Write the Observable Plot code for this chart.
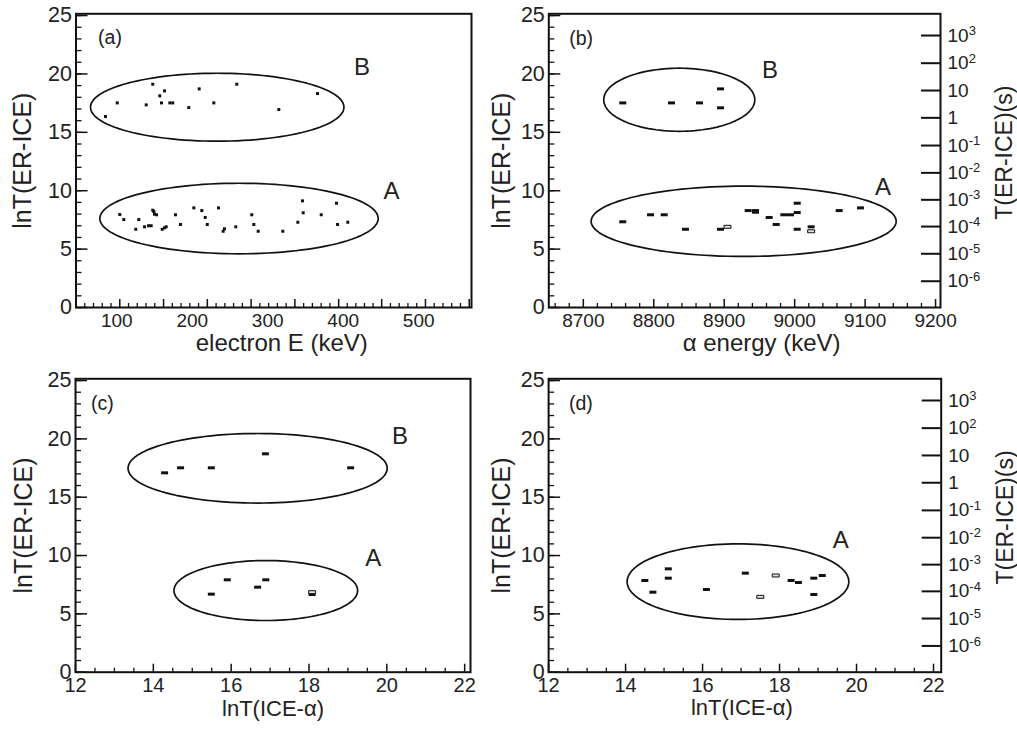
<!DOCTYPE html>
<html><head><meta charset="utf-8">
<script src="https://cdn.jsdelivr.net/npm/d3@7"></script>
<script src="https://cdn.jsdelivr.net/npm/@observablehq/plot@0.6"></script>
<style>
html,body{margin:0;padding:0;background:#fff;}
#wrap{position:relative;width:1017px;height:730px;overflow:hidden;background:#fff;}
</style></head><body><div id="wrap"></div>
<script>
// ---------- data ----------
// panel (a): electron energy (keV) vs lnT(ER-ICE)
const aGroupB = [[85.1,16.35],[100.6,17.52],[139.0,17.35],[147.7,19.12],[157.0,18.12],[159.3,17.52],[163.3,18.55],[170.3,17.52],[174.2,17.52],[195.4,17.12],[209.2,18.72],[228.6,17.52],[259.0,19.12],[314.7,16.95],[366.0,18.32]];
const aGroupA = [[104.0,7.96],[109.3,7.53],[125.2,6.70],[129.2,7.53],[136.8,6.91],[142.1,7.0],[145.6,7.0],[147.7,8.33],[150.0,7.99],[152.7,7.94],[149.1,8.22],[160.2,6.70],[163.3,6.82],[165.5,6.91],[177.8,7.94],[184.5,7.11],[202.1,8.53],[212.7,8.30],[217.2,7.71],[219.9,7.11],[234.8,8.53],[241.0,6.53],[242.7,6.74],[257.7,6.91],[278.9,7.94],[281.6,7.11],[287.4,6.53],[320.0,6.53],[339.9,7.30],[346.1,9.13],[347.0,8.11],[370.9,7.94],[391.1,8.93],[392.5,7.11],[406.1,7.30]];
// panel (b): alpha energy (keV) vs lnT(ER-ICE)
const bGroupB = [[8756.0,17.52],[8825.2,17.52],[8864.9,17.52],[8894.7,18.72],[8894.7,17.10]];
const bGroupA = [[8756.0,7.34],[8795.4,7.94],[8814.8,7.94],[8845.0,6.70],[8894.7,6.70],[8934.0,8.30],[8944.4,8.30],[8944.4,8.16],[8963.8,7.71],[8973.8,7.11],[8984.6,7.94],[8994.1,7.94],[9003.6,8.93],[9003.6,8.13],[9003.6,6.70],[9023.4,6.91],[9063.2,8.30],[9093.4,8.53]];
const bHollow = [[8904.6,6.91],[9023.4,6.53]];
// panel (c): lnT(ICE-alpha) vs lnT(ER-ICE)
const cGroupB = [[14.29,17.09],[14.70,17.52],[15.49,17.52],[16.88,18.72],[19.07,17.52]];
const cGroupA = [[15.49,6.69],[15.90,7.92],[16.68,7.29],[16.89,7.92],[18.08,6.66]];
const cHollow = [[18.08,6.86]];
// panel (d): lnT(ICE-alpha) vs lnT(ER-ICE)
const dGroupA = [[14.50,7.86],[14.71,6.86],[15.11,8.86],[15.11,8.06],[16.10,7.09],[17.11,8.49],[18.30,7.86],[18.49,7.69],[18.89,8.06],[19.11,8.29],[18.89,6.66]];
const dHollow = [[17.50,6.46],[17.90,8.29]];

// ellipses: [cx, cy, rx, ry]
const aEllipses = [[233.1,17.15,167.9,2.91],[262.0,7.62,184.4,3.02]];
const bEllipses = [[8836.2,17.79,107.2,2.70],[8927.6,7.38,216.5,3.01]];
const cEllipses = [[16.68,17.48,3.33,2.98],[16.89,7.00,2.36,2.57]];
const dEllipses = [[16.92,7.76,2.88,3.24]];

// annotations: [x, y, text]
const aNotes = [[91.0,23.07,"(a)"],[424.9,20.59,"B"],[464.0,9.97,"A"]];
const bNotes = [[8697,23.0,"(b)"],[8965,20.29,"B"],[9125.4,10.30,"A"]];
const cNotes = [[12.69,23.0,"(c)"],[20.34,20.25,"B"],[19.65,9.77,"A"]];
const dNotes = [[12.84,23.0,"(d)"],[19.59,11.29,"A"]];

// axes
const yTickLabels = [0,5,10,15,20,25];
const yMinorTicks = d3.range(0,26,1);
const aXLabels = [100,200,300,400,500];
const aXMajor = [46,104,162,220,278,336,394,451,509,567];
const bXLabels = [8700,8800,8900,9000,9100,9200];
const cdXLabels = [12,14,16,18,20,22];
const rightTickY = [23.29,20.92,18.58,16.24,13.87,11.53,9.22,6.93,4.60,2.25];
const rightTickLabels = ["10^3","10^2","10","1","10^-1","10^-2","10^-3","10^-4","10^-5","10^-6"];

// ---------- drawing ----------
const INK = "#111", TXT = "#222";
const FONT = "Liberation Sans, Arial, Helvetica, sans-serif";
const squareSym = {draw(c){c.moveTo(-1.5,-1.5);c.lineTo(1.5,-1.5);c.lineTo(1.5,1.5);c.lineTo(-1.5,1.5);c.closePath();}};
const barSym = {draw(c){c.moveTo(-3.5,-1.5);c.lineTo(3.5,-1.5);c.lineTo(3.5,1.5);c.lineTo(-3.5,1.5);c.closePath();}};

function ellipsePts([cx,cy,rx,ry]) {
  return d3.range(0,121).map(i => {const t = i/120*2*Math.PI; return {x: cx+rx*Math.cos(t), y: cy+ry*Math.sin(t)};});
}
function subdivide(majors, n) {
  const out = [];
  for (let i=0;i<majors.length-1;i++){const a=majors[i],b=majors[i+1];for(let k=1;k<n;k++) out.push(a+(b-a)*k/n);}
  return out;
}

function panel(cfg) {
  const {left, top, width, height, mL, mR, mT, mB, xDomain} = cfg;
  const plotW = width - mL - mR, plotH = height - mT - mB;
  const marks = [];
  for (const e of cfg.ellipses) marks.push(Plot.line(ellipsePts(e), {x:"x", y:"y", stroke: INK, strokeWidth: 1.7}));
  marks.push(Plot.dot(cfg.filled, {x: d=>d[0], y: d=>d[1], symbol: cfg.sym, r: 3, fill: INK, stroke: "none"}));
  if (cfg.hollow) marks.push(Plot.dot(cfg.hollow, {x: d=>d[0], y: d=>d[1], symbol: cfg.sym, r: 3, fill: "#ddd", stroke: INK, strokeWidth: 1}));
  // left ticks
  marks.push(Plot.tickY(yMinorTicks, {y: d=>d, insetRight: plotW - 6, stroke: INK, strokeWidth: 1.3}));
  marks.push(Plot.tickY(yTickLabels, {y: d=>d, insetRight: plotW - 12, stroke: INK, strokeWidth: 1.5}));
  // bottom ticks
  marks.push(Plot.tickX(cfg.xMinor, {x: d=>d, insetTop: plotH - 4, stroke: INK, strokeWidth: 1.3}));
  marks.push(Plot.tickX(cfg.xMajor, {x: d=>d, insetTop: plotH - 8, stroke: INK, strokeWidth: 1.5}));
  if (cfg.right) {
    marks.push(Plot.tickY(rightTickY, {y: d=>d, insetLeft: plotW - 19, stroke: INK, strokeWidth: 2}));
    marks.push(Plot.text(rightTickLabels, {y: (d,i)=>rightTickY[i], text: d=>d, frameAnchor: "right", textAnchor: "start", dx: 7, fontSize: 19, fill: TXT}));
    marks.push(Plot.text(["T(ER-ICE)(s)"], {text: d=>d, frameAnchor: "right", textAnchor: "middle", dx: 64, dy: -8, rotate: -90, fontSize: 23, fill: TXT}));
  }
  marks.push(Plot.frame({stroke: INK, strokeWidth: 2}));
  // tick labels
  marks.push(Plot.text(yTickLabels, {y: d=>d, text: d=>String(d), frameAnchor: "left", textAnchor: "end", dx: -4, fontSize: 21.5, fill: TXT}));
  marks.push(Plot.text(cfg.xLabels, {x: d=>d, text: d=>String(d), frameAnchor: "bottom", dy: cfg.xLabelDy, fontSize: cfg.xLabelSize, fill: TXT}));
  // titles
  marks.push(Plot.text([cfg.xTitle], {text: d=>d, frameAnchor: "bottom", textAnchor: "middle", dx: cfg.xTitleDx, dy: cfg.xTitleDy, fontSize: cfg.xTitleSize, fill: TXT}));
  marks.push(Plot.text(["lnT(ER-ICE)"], {text: d=>d, frameAnchor: "left", textAnchor: "middle", dx: cfg.yTitleDx, rotate: -90, fontSize: 25, fill: TXT}));
  // annotations
  marks.push(Plot.text(cfg.notes, {x: d=>d[0], y: d=>d[1], text: d=>d[2], fontSize: d=>d[2].startsWith("(") ? 19.5 : 24, fill: TXT}));

  const svg = Plot.plot({
    width, height, marginLeft: mL, marginRight: mR, marginTop: mT, marginBottom: mB,
    x: {domain: xDomain, axis: null},
    y: {domain: [0, 25.15], axis: null},
    style: {fontFamily: FONT, background: "transparent", overflow: "visible"},
    marks
  });
  svg.style.position = "absolute";
  svg.style.left = left + "px";
  svg.style.top = top + "px";
  svg.style.maxWidth = "none";
  svg.style.overflow = "visible";
  // superscripts for the right axis
  d3.select(svg).selectAll("text").each(function() {
    const t = this.textContent;
    const m = t.match(/^10\^(.+)$/);
    if (m) {
      this.textContent = "10";
      d3.select(this).append("tspan").attr("dy", "-0.5em").attr("font-size", "13px").text(m[1]);
    }
  });
  document.getElementById("wrap").appendChild(svg);
}

const aMinor = subdivide(aXMajor, 5);
const bMajor = bXLabels;
const bMinor = [8660, 8680].concat(subdivide(bXLabels, 5));
const cdMajor = cdXLabels;
const cdMinor = subdivide(cdXLabels, 4);

panel({left: 0, top: 0, width: 490, height: 365, mL: 75.5, mR: 19, mT: 13.3, mB: 58,
  xDomain: [46, 570], ellipses: aEllipses, filled: aGroupB.concat(aGroupA), sym: squareSym,
  xMajor: aXMajor, xMinor: aMinor, xLabels: aXLabels, xLabelDy: 19, xLabelSize: 19,
  xTitle: "electron E (keV)", xTitleDx: 8, xTitleDy: 43, xTitleSize: 24, yTitleDx: -53, notes: aNotes});

panel({left: 490, top: 0, width: 527, height: 365, mL: 58.3, mR: 77, mT: 13.3, mB: 58,
  xDomain: [8651, 9207], ellipses: bEllipses, filled: bGroupB.concat(bGroupA), hollow: bHollow, sym: barSym,
  xMajor: bMajor, xMinor: bMinor, xLabels: bXLabels, xLabelDy: 19, xLabelSize: 19,
  xTitle: "α energy (keV)", xTitleDx: 17, xTitleDy: 43, xTitleSize: 24, yTitleDx: -47, notes: bNotes, right: true});

panel({left: 0, top: 365, width: 490, height: 365, mL: 75, mR: 20, mT: 13.3, mB: 58.3,
  xDomain: [12, 22.15], ellipses: cEllipses, filled: cGroupB.concat(cGroupA), hollow: cHollow, sym: barSym,
  xMajor: cdMajor, xMinor: cdMinor, xLabels: cdXLabels, xLabelDy: 20, xLabelSize: 20,
  xTitle: "lnT(ICE-α)", xTitleDx: 0, xTitleDy: 44, xTitleSize: 22, yTitleDx: -52, notes: cNotes});

panel({left: 490, top: 365, width: 527, height: 365, mL: 58.1, mR: 76.3, mT: 13.3, mB: 58.3,
  xDomain: [12, 22.2], ellipses: dEllipses, filled: dGroupA, hollow: dHollow, sym: barSym,
  xMajor: cdMajor, xMinor: cdMinor, xLabels: cdXLabels, xLabelDy: 20, xLabelSize: 20,
  xTitle: "lnT(ICE-α)", xTitleDx: -3, xTitleDy: 43, xTitleSize: 22, yTitleDx: -47, notes: dNotes, right: true});
</script>
</body></html>
